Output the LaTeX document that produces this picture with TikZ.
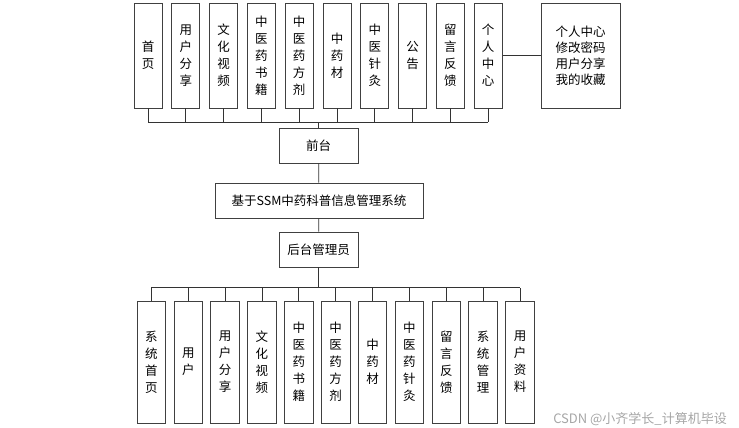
\documentclass[tikz,border=0pt]{standalone}
\usepackage{fontspec}
\setmainfont{Noto Sans CJK SC}
\usetikzlibrary{positioning}
\tikzset{vbox/.style={draw=black!75,line width=0.8pt,minimum width=28pt,inner sep=0pt,align=center,font=\fontsize{12.5}{17}\selectfont},hbox/.style={draw=black!75,line width=0.8pt,minimum width=79pt,minimum height=35pt,inner sep=0pt,align=center,font=\fontsize{12.5}{15}\selectfont},link/.style={draw=black!80,line width=0.8pt}}

\begin{document}
\begin{tikzpicture}[x=1pt,y=-1pt]
\useasboundingbox (0,0) rectangle (739,428);
% front-end modules
\foreach \lbl [count=\i] in {{首\\页},{用\\户\\分\\享},{文\\化\\视\\频},{中\\医\\药\\书\\籍},{中\\医\\药\\方\\剂},{中\\药\\材},{中\\医\\针\\灸},{公\\告},{留\\言\\反\\馈},{个\\人\\中\\心}}
  \node[vbox,minimum height=105pt](t\i)at({148+37.8*(\i-1)},55.5){\lbl};
\node[hbox,minimum height=105pt,font=\fontsize{12.5}{16}\selectfont](center)at(580.5,55.5){个人中心\\修改密码\\用户分享\\我的收藏};
\node[hbox](front)at(318.5,145.5){前台};
\node[hbox,minimum width=208pt](sys)at(319,200.5){基于SSM中药科普信息管理系统};
\node[hbox](admin)at(318.5,249.5){后台管理员};
% back-end modules
\foreach \lbl [count=\i] in {{系\\统\\首\\页},{用\\户},{用\\户\\分\\享},{文\\化\\视\\频},{中\\医\\药\\书\\籍},{中\\医\\药\\方\\剂},{中\\药\\材},{中\\医\\药\\针\\灸},{留\\言\\反\\馈},{系\\统\\管\\理},{用\\户\\资\\料}}
  \node[vbox,minimum width=28.5pt,minimum height=122pt](b\i)at({151.4+36.86*(\i-1)},362){\lbl};
\coordinate(tbus)at(0,122);
\coordinate(bbus)at(0,287.5);
\foreach \i in {1,...,10}\draw[link](t\i.south)--(t\i.south|-tbus);
\foreach \i in {1,...,11}\draw[link](b\i.north)--(b\i.north|-bbus);
\draw[link](t1.south|-tbus)--(t10.south|-tbus);
\draw[link](b1.north|-bbus)--(b11.north|-bbus);
\draw[link](front.north)--(front.north|-tbus);
\draw[link](admin.south)--(admin.south|-bbus);
\draw[link](front)--(sys);\draw[link](sys)--(admin);
\draw[link](t10.east)--(center.west);
\node[text=black!35,font=\fontsize{13}{14}\selectfont](mark)at(640,419){CSDN @小齐学长\_计算机毕设};
\end{tikzpicture}
\end{document}
